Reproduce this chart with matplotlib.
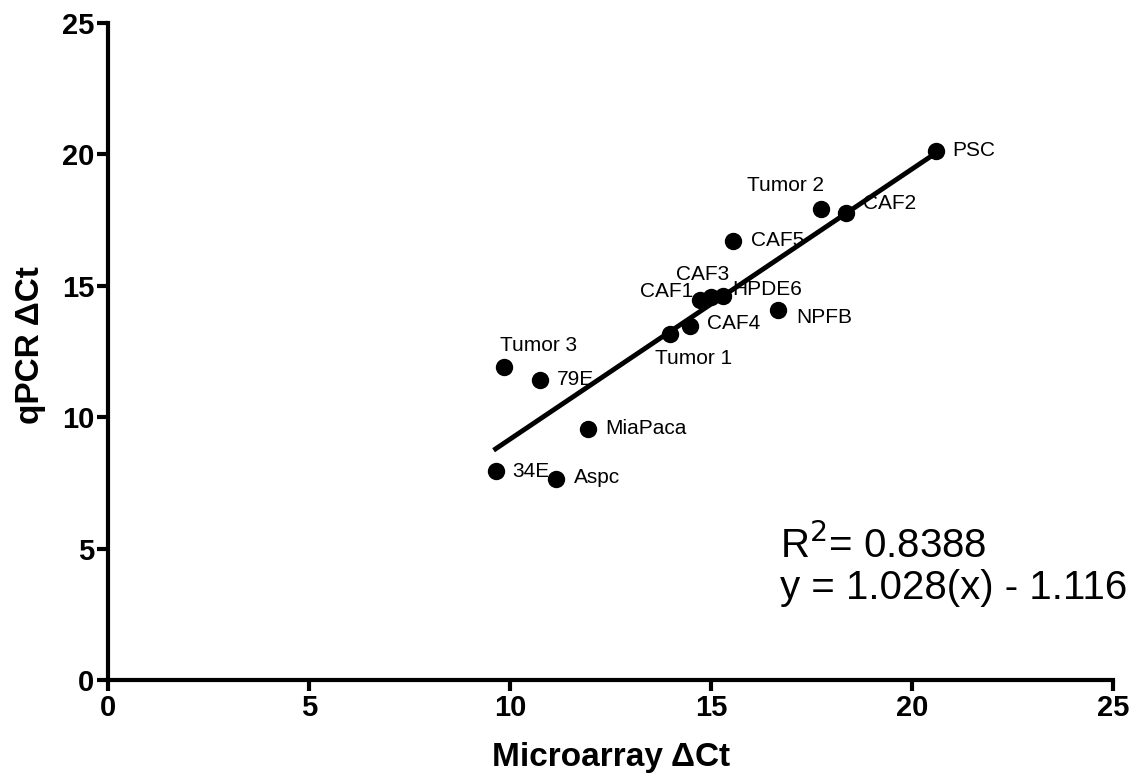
import numpy as np
import matplotlib
matplotlib.use('Agg')
import matplotlib.pyplot as plt

plt.rcParams['font.family'] = ['Liberation Sans', 'DejaVu Sans']

# sample data
names = ['PSC', 'Tumor 2', 'CAF2', 'CAF5', 'CAF1', 'CAF3', 'HPDE6', 'NPFB',
         'CAF4', 'Tumor 1', 'Tumor 3', '79E', 'MiaPaca', '34E', 'Aspc']
microarray = [20.59, 17.74, 18.35, 15.54, 14.72, 14.99, 15.29, 16.66,
              14.47, 13.97, 9.84, 10.74, 11.93, 9.64, 11.14]
qpcr = [20.13, 17.92, 17.78, 16.72, 14.46, 14.57, 14.61, 14.08,
        13.47, 13.17, 11.91, 11.42, 9.55, 7.95, 7.65]
slope = 1.028
intercept = -1.116
r2 = 0.8388

# label offsets in pixels (dx, dy up, ha)
offsets = {'PSC': (16, 0, 'left'), 'Tumor 2': (3, 24, 'right'),
           'CAF2': (17, 9, 'left'), 'CAF5': (18, 0, 'left'),
           'CAF1': (-7, 8, 'right'), 'CAF3': (-8, 23, 'center'),
           'HPDE6': (10, 7, 'left'), 'NPFB': (18, -8, 'left'),
           'CAF4': (17, 2, 'left'), 'Tumor 1': (-15, -25, 'left'),
           'Tumor 3': (-4, 21, 'left'), '79E': (17, 0, 'left'),
           'MiaPaca': (18, 0, 'left'), '34E': (17, 0, 'left'),
           'Aspc': (18, 1, 'left')}

fig = plt.figure(figsize=(11.35, 7.84), dpi=100)
ax = fig.add_axes([0.0952, 0.1327, 0.8855, 0.838])

xs = np.array(microarray)
xfit = np.array([xs.min(), xs.max()])
ax.plot(xfit, slope * xfit + intercept, color='black', lw=3.5, zorder=2)
ax.plot(microarray, qpcr, 'o', color='black', ms=11.5, zorder=3, clip_on=False)

for n, x, y in zip(names, microarray, qpcr):
    dx, dy, ha = offsets[n]
    ax.annotate(n, (x, y), xytext=(dx * 0.72, dy * 0.72), textcoords='offset points',
                ha=ha, va='center', fontsize=15)

fig.text(780 / 1135, 1 - 545 / 784, 'R$^2$= %.4f' % r2, fontsize=29, va='center')
fig.text(780 / 1135, 1 - 588 / 784, 'y = %.3f(x) - %.3f' % (slope, -intercept),
         fontsize=29, va='center')

ax.set_xlim(0, 25)
ax.set_ylim(0, 25)
ax.set_xticks([0, 5, 10, 15, 20, 25])
ax.set_yticks([0, 5, 10, 15, 20, 25])
for s in ['top', 'right']:
    ax.spines[s].set_visible(False)
for s in ['left', 'bottom']:
    ax.spines[s].set_linewidth(3)
ax.tick_params(width=3, length=8, labelsize=21, pad=2)
for lab in ax.get_xticklabels() + ax.get_yticklabels():
    lab.set_fontweight('bold')

ax.set_xlabel('Microarray ΔCt', fontsize=24, fontweight='bold')
ax.set_ylabel('qPCR ΔCt', fontsize=24, fontweight='bold')
ax.xaxis.set_label_coords(0.5, -0.095)
ax.yaxis.set_label_coords(-0.062, 0.51)

fig.savefig('out.png', dpi=100)
